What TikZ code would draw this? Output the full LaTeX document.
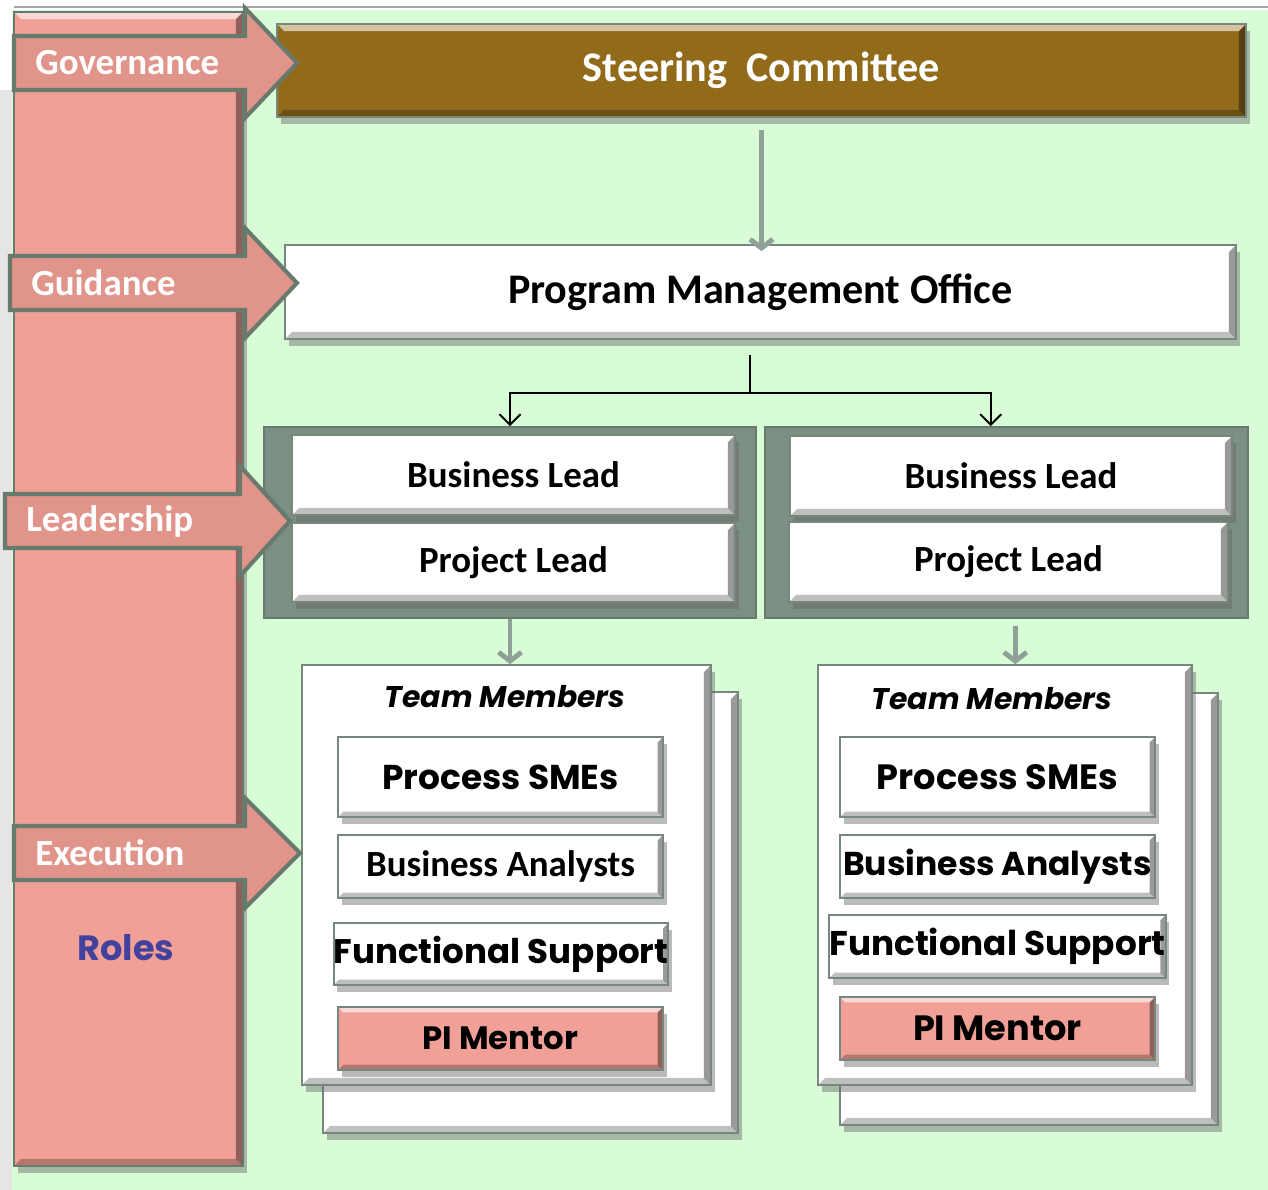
\documentclass[tikz,border=0pt]{standalone}
\usepackage{fontspec}
\setmainfont{Carlito}
\newfontfamily\gothic{Poppins}
\usetikzlibrary{arrows.meta,shadows}
\definecolor{BackClr}{rgb}{0.847,0.988,0.839}
\definecolor{ColumnClr}{rgb}{0.941,0.627,0.588}
\definecolor{ArrowClr}{rgb}{0.878,0.580,0.541}
\definecolor{EdgeClr}{rgb}{0.408,0.478,0.431}
\definecolor{SteerClr}{rgb}{0.569,0.416,0.102}
\definecolor{GroupClr}{rgb}{0.482,0.561,0.514}
\definecolor{FlowClr}{rgb}{0.561,0.627,0.588}
\definecolor{RolesClr}{rgb}{0.259,0.259,0.620}
\definecolor{BoxEdgeClr}{rgb}{0.47,0.53,0.49}

\newlength\px
\setlength\px{0.02cm}

\tikzset{
  bevel/.style={path picture={
      \fill[white,opacity=.6] (path picture bounding box.north west) -- (path picture bounding box.north east)
        -- ([xshift=-#1,yshift=-#1]path picture bounding box.north east) -- ([xshift=#1,yshift=-#1]path picture bounding box.north west) -- cycle;
      \fill[black,opacity=.25] (path picture bounding box.south west) -- (path picture bounding box.south east)
        -- ([xshift=-#1,yshift=#1]path picture bounding box.south east) -- ([xshift=#1,yshift=#1]path picture bounding box.south west) -- cycle;
      \fill[black,opacity=.4] (path picture bounding box.north east) -- (path picture bounding box.south east)
        -- ([xshift=-#1,yshift=#1]path picture bounding box.south east) -- ([xshift=-#1,yshift=-#1]path picture bounding box.north east) -- cycle;
    }},
  bevel/.default=4pt,
  box/.style={draw=BoxEdgeClr,line width=1pt,fill=white,inner sep=0pt,bevel,
    drop shadow={shadow xshift=2pt,shadow yshift=-4pt,opacity=.45,fill=black!60}},
  grp/.style={draw=EdgeClr,line width=1pt,fill=GroupClr,inner sep=0pt},
  rolecol/.style={box,fill=ColumnClr,draw=EdgeClr},
  rolearrow/.style={fill=ArrowClr,draw=EdgeClr,line width=2.3pt,line join=miter},
  rolelabel/.style={text=white,font=\bfseries\fontsize{21}{24}\selectfont,inner sep=0pt,anchor=west},
  flow/.style={draw=FlowClr,line width=2.8pt,-{Straight Barb[length=5pt,width=13pt]}},
  forkline/.style={draw=black,line width=1.1pt},
}

\begin{document}
\begin{tikzpicture}[x=0.02cm,y=-0.02cm]
\useasboundingbox (0,0) rectangle (1268,1190);

% Background of the chart.
\fill[white] (0,0) rectangle (1268,1190);
\fill[black!10] (0,90) rectangle (12,1190);
\draw[black!35,line width=1pt] (14,7) -- (1268,7);
\fill[BackClr] (12,10) rectangle (1268,1190);

% The column of roles.
\node[rolecol,minimum width=229\px,minimum height=1154\px] (col) at (128.5,589) {};
\node[text=RolesClr,font=\gothic\bfseries\fontsize{20}{24}\selectfont] (roles) at (126,948) {Roles};

% Steering committee and program office.
\node[box,fill=SteerClr,minimum width=969\px,minimum height=93\px,text=white,
  font=\bfseries\fontsize{24}{28}\selectfont] (steer) at (761.5,70.5) {Steering\ \ Committee};
\node[box,minimum width=951\px,minimum height=94\px,
  font=\bfseries\fontsize{24}{28}\selectfont] (pmo) at (760.5,292) {Program Management Office};

% Leads, one group on each side.
\node[grp,minimum width=492\px,minimum height=191\px] (lgrpL) at (510,522.5) {};
\node[grp,minimum width=483\px,minimum height=191\px] (lgrpR) at (1006.5,522.5) {};
\node[box,minimum width=443\px,minimum height=80\px,font=\bfseries\fontsize{21}{24}\selectfont] (blL) at (513.5,475) {Business Lead};
\node[box,minimum width=443\px,minimum height=79\px,font=\bfseries\fontsize{21}{24}\selectfont] (plL) at (513.5,562.5) {Project Lead};
\node[box,minimum width=442\px,minimum height=80\px,font=\bfseries\fontsize{21}{24}\selectfont] (blR) at (1011,476) {Business Lead};
\node[box,minimum width=439\px,minimum height=80\px,font=\bfseries\fontsize{21}{24}\selectfont] (plR) at (1008.5,562) {Project Lead};

% Team members, left.
\node[box,minimum width=415\px,minimum height=441\px] (teamLb) at (530.5,912.5) {};
\node[box,minimum width=409\px,minimum height=420\px] (teamLf) at (506.5,875) {};
\node[font=\gothic\bfseries\itshape\fontsize{17}{20}\selectfont] (tmL) at (505,697) {Team Members};
\node[box,bevel=3pt,minimum width=325\px,minimum height=80\px,font=\gothic\bfseries\fontsize{19.6}{23}\selectfont] (smeL) at (500.5,777) {Process SMEs};
\node[box,bevel=3pt,minimum width=325\px,minimum height=63\px,font=\bfseries\fontsize{21}{24}\selectfont] (baL) at (500.5,866.5) {Business Analysts};
\node[box,bevel=3pt,minimum width=316\px,minimum height=62\px,font=\gothic\bfseries\fontsize{19.4}{23}\selectfont] (fsL) at (501,954) {Functional Support};
\node[box,bevel=3pt,fill=ColumnClr,minimum width=325\px,minimum height=63\px,font=\gothic\bfseries\fontsize{18.4}{22}\selectfont] (pimL) at (500.5,1038.5) {PI Mentor};

% Team members, right.
\node[box,minimum width=378\px,minimum height=432\px] (teamRb) at (1029,909) {};
\node[box,minimum width=374\px,minimum height=420\px] (teamRf) at (1005,875) {};
\node[font=\gothic\bfseries\itshape\fontsize{17}{20}\selectfont] (tmR) at (992,699) {Team Members};
\node[box,bevel=3pt,minimum width=315\px,minimum height=80\px,font=\gothic\bfseries\fontsize{20}{24}\selectfont] (smeR) at (997.5,777) {Process SMEs};
\node[box,bevel=3pt,minimum width=315\px,minimum height=63\px,font=\gothic\bfseries\fontsize{18.8}{22}\selectfont] (baR) at (997.5,866.5) {Business Analysts};
\node[box,bevel=3pt,minimum width=315\px,minimum height=63\px,font=\gothic\bfseries\fontsize{19.5}{23}\selectfont] (fsR) at (997.5,946.5) {Functional Support};
\node[box,bevel=3pt,fill=ColumnClr,minimum width=315\px,minimum height=63\px,font=\gothic\bfseries\fontsize{20}{24}\selectfont] (pimR) at (997.5,1028.5) {PI Mentor};

% Reporting lines.
\draw[flow,shorten <=5pt,shorten >=-4pt] ([yshift=-2pt]steer.south) -- (steer.south |- pmo.north);
\coordinate (pmoout) at (750,355);
\coordinate (fork) at (750,393);
\draw[forkline] (pmoout) -- (fork);
\draw[forkline,-{Straight Barb[length=6pt,width=12pt]}] (fork) -| (lgrpL.north);
\draw[forkline,-{Straight Barb[length=6pt,width=12pt]}] (fork) -| ([xshift=-9pt]lgrpR.north);
\draw[flow] (lgrpL.south) -- (lgrpL.south |- teamLf.north);
\draw[flow,shorten <=4pt] ([xshift=5pt]lgrpR.south) -- ([xshift=5pt]lgrpR.south |- teamRf.north);

% Arrows of the roles column.
\foreach \yc/\xl/\xb/\xt/\txt in {63/14/245/297/Governance, 283/10/245/297/Guidance,
    521/5/240/290/Leadership, 853/14/245/300/Execution}{
  \filldraw[rolearrow] (\xl,\yc-27) -- (\xb,\yc-27) -- (\xb,\yc-55) -- (\xt,\yc)
    -- (\xb,\yc+55) -- (\xb,\yc+27) -- (\xl,\yc+27) -- cycle;
  \node[rolelabel] (\txt) at (\xl+21,\yc) {\txt};
}

\end{tikzpicture}
\end{document}
